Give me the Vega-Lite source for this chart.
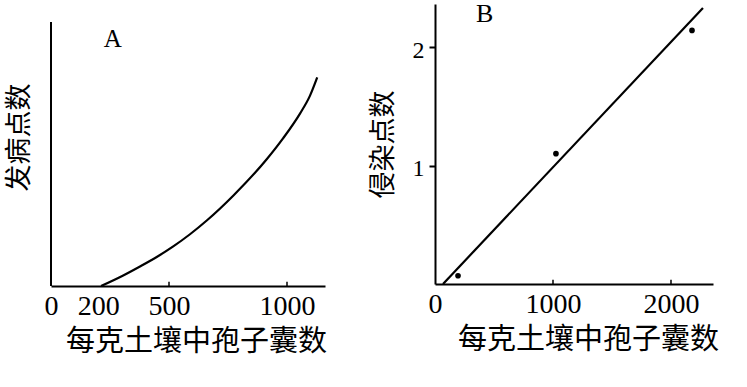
{
  "$schema": "https://vega.github.io/schema/vega-lite/v6.json",
  "background": "white",
  "padding": {"left": 5, "top": 0, "right": 0, "bottom": 0},
  "bounds": "flush",
  "spacing": 110,
  "config": {
    "view": {"stroke": null},
    "axis": {"grid": false, "domainColor": "black", "tickColor": "black", "labelColor": "black", "titleColor": "black", "domainWidth": 2, "tickWidth": 2,
      "labelFont": "Liberation Serif", "titleFont": "Noto Sans CJK SC", "titleFontWeight": "normal", "labelFontWeight": "normal"}
  },
  "hconcat": [
    {
      "width": 274,
      "height": 282,
      "layer": [
        {
          "data": {"values": [
            {"x": 212, "y": 0}, {"x": 306, "y": 4.0}, {"x": 377, "y": 7.4}, {"x": 448, "y": 11.0},
            {"x": 518, "y": 15.0}, {"x": 589, "y": 19.6}, {"x": 660, "y": 24.8}, {"x": 772, "y": 34.2},
            {"x": 914, "y": 48.0}, {"x": 984, "y": 56.0}, {"x": 1055, "y": 65.3}, {"x": 1097, "y": 72.0}, {"x": 1128, "y": 79.0}
          ]},
          "mark": {"type": "line", "color": "black", "strokeWidth": 2.2, "interpolate": "monotone"},
          "encoding": {
            "x": {"field": "x", "type": "quantitative", "scale": {"domain": [0, 1161], "nice": false},
              "axis": {"values": [0, 200, 500, 1000], "format": "d", "title": "每克土壤中孢子囊数", "titleFontSize": 29, "titleX": 145, "titleY": 55, "titleAlign": "center", "titleBaseline": "middle",
                "labelFontSize": 28, "ticks": false, "labelPadding": 6, "labelFlush": false}},
            "y": {"field": "y", "type": "quantitative", "scale": {"domain": [0, 106.8], "nice": false},
              "axis": {"domain": false, "ticks": false, "labels": false, "title": "发病点数", "titleFontSize": 27, "titleX": -32, "titleY": 133, "titleAlign": "center", "titleBaseline": "middle", "titleAngle": -90}}
          }
        },
        {
          "data": {"values": [{"x": 0, "y": 0, "y2": 100}]},
          "mark": {"type": "rule", "color": "black", "strokeWidth": 2},
          "encoding": {
            "x": {"field": "x", "type": "quantitative"},
            "y": {"field": "y", "type": "quantitative"},
            "y2": {"field": "y2"}
          }
        },
        {
          "data": {"values": [{"x": 500, "y": 0, "y2": 1.6}, {"x": 1000, "y": 0, "y2": 1.6}]},
          "mark": {"type": "rule", "color": "black", "strokeWidth": 1.5},
          "encoding": {
            "x": {"field": "x", "type": "quantitative"},
            "y": {"field": "y", "type": "quantitative"},
            "y2": {"field": "y2"}
          }
        },
        {
          "data": {"values": [{"x": 262, "y": 93.5, "t": "A"}]},
          "mark": {"type": "text", "font": "Liberation Serif", "fontSize": 25, "color": "black", "baseline": "middle", "align": "center"},
          "encoding": {
            "x": {"field": "x", "type": "quantitative"},
            "y": {"field": "y", "type": "quantitative"},
            "text": {"field": "t"}
          }
        }
      ]
    },
    {
      "width": 278,
      "height": 280,
      "layer": [
        {
          "data": {"values": [{"x": 68, "y": 0}, {"x": 2271, "y": 2.33}]},
          "mark": {"type": "line", "color": "black", "strokeWidth": 2.2},
          "encoding": {
            "x": {"field": "x", "type": "quantitative", "scale": {"domain": [0, 2356], "nice": false},
              "axis": {"values": [0, 1000, 2000], "format": "d", "title": "每克土壤中孢子囊数", "titleFontSize": 29, "titleX": 153, "titleY": 55, "titleAlign": "center", "titleBaseline": "middle",
                "labelFontSize": 28, "ticks": false, "labelPadding": 6, "labelFlush": false}},
            "y": {"field": "y", "type": "quantitative", "scale": {"domain": [0, 2.363], "nice": false},
              "axis": {"values": [1, 2], "format": "d", "title": "侵染点数", "titleFontSize": 27, "titleX": -52, "titleY": 140, "titleAlign": "center", "titleBaseline": "middle", "titleAngle": -90,
                "labelFontSize": 24, "tickSize": 6, "labelPadding": 5, "labelOffset": 3}}
          }
        },
        {
          "data": {"values": [{"x": 1000, "y": 0, "y2": 0.035}, {"x": 2000, "y": 0, "y2": 0.035}]},
          "mark": {"type": "rule", "color": "black", "strokeWidth": 1.5},
          "encoding": {
            "x": {"field": "x", "type": "quantitative"},
            "y": {"field": "y", "type": "quantitative"},
            "y2": {"field": "y2"}
          }
        },
        {
          "data": {"values": [{"x": 195, "y": 0.07}, {"x": 1025, "y": 1.10}, {"x": 2178, "y": 2.14}]},
          "mark": {"type": "point", "filled": true, "color": "black", "size": 32, "opacity": 1},
          "encoding": {
            "x": {"field": "x", "type": "quantitative"},
            "y": {"field": "y", "type": "quantitative"}
          }
        },
        {
          "data": {"values": [{"x": 422, "y": 2.28, "t": "B"}]},
          "mark": {"type": "text", "font": "Liberation Serif", "fontSize": 26, "color": "black", "baseline": "middle", "align": "center"},
          "encoding": {
            "x": {"field": "x", "type": "quantitative"},
            "y": {"field": "y", "type": "quantitative"},
            "text": {"field": "t"}
          }
        }
      ]
    }
  ]
}
